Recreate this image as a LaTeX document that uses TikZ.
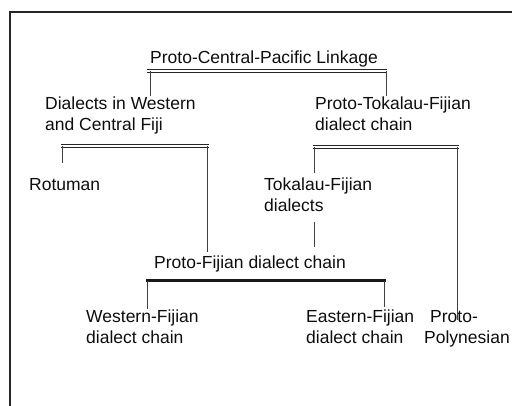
\documentclass[tikz,border=0pt]{standalone}
\usepackage{fontspec}
\setmainfont{Liberation Sans}
\begin{document}
\begin{tikzpicture}[x=1pt,y=-1pt,
  lbl/.style={anchor=base west,inner sep=0pt,align=left,text=black!95,
    font=\fontsize{17.5}{21}\selectfont},
  barline/.style={draw=black!85,line width=1.2pt},
  tbar/.style={draw=black!90,line width=3pt},
  drop/.style={draw=black!75,line width=1pt},
  frame/.style={draw=black!85,line width=2pt}]
\useasboundingbox (0,0) rectangle (512,406);
\draw[frame] (512,12) -- (10,12) -- (10,406);

\node[lbl] (pcp) at (150,64) {Proto-Central-Pacific Linkage};
\node[lbl] (dwc) at (45,131) {Dialects in Western\\and Central Fiji};
\node[lbl] (ptf) at (315,131) {Proto-Tokalau-Fijian\\dialect chain};
\node[lbl] (rot) at (29,191) {Rotuman};
\node[lbl] (tfd) at (264,212) {Tokalau-Fijian\\dialects};
\node[lbl] (pfd) at (154,269) {Proto-Fijian dialect chain};
\node[lbl] (wfd) at (86,344) {Western-Fijian\\dialect chain};
\node[lbl] (efd) at (306,344) {Eastern-Fijian\\dialect chain};
\node[lbl] (ppn) at (424,344) {\hspace*{6pt}Proto-\\Polynesian};

% bracket 1
\coordinate (b1l) at (147,71); \coordinate (b1r) at (387,71);
\coordinate (e1l) at (150,96); \coordinate (e1r) at (386,96);
\draw[barline] ([yshift=1.2pt]b1l) -- ([yshift=1.2pt]b1r);
\draw[barline] ([yshift=-1.2pt]b1l) -- ([yshift=-1.2pt]b1r);
\draw[drop] (e1l) -- (e1l |- b1l);
\draw[drop] (e1r) -- (e1r |- b1r);

% bracket 2
\coordinate (b2l) at (61,146); \coordinate (b2r) at (209,146);
\coordinate (e2l) at (62,163); \coordinate (e2r) at (207,252);
\draw[barline] ([yshift=1.2pt]b2l) -- ([yshift=1.2pt]b2r);
\draw[barline] ([yshift=-1.2pt]b2l) -- ([yshift=-1.2pt]b2r);
\draw[drop] (e2l) -- (e2l |- b2l);
\draw[drop] (e2r) -- (e2r |- b2r);

% bracket 3
\coordinate (b3l) at (313,147); \coordinate (b3r) at (459,147);
\coordinate (e3l) at (314,173); \coordinate (e3r) at (457,320);
\draw[barline] ([yshift=1.2pt]b3l) -- ([yshift=1.2pt]b3r);
\draw[barline] ([yshift=-1.2pt]b3l) -- ([yshift=-1.2pt]b3r);
\draw[drop] (e3l) -- (e3l |- b3l);
\draw[drop] (e3r) -- (e3r |- b3r);

% tokalau-fijian dialects to proto-fijian
\coordinate (c1) at (314,222); \coordinate (c2) at (314,247);
\draw[drop] (c1) -- (c2);

% bracket 4
\coordinate (b4l) at (146,281); \coordinate (b4r) at (386,281);
\coordinate (e4l) at (147,309); \coordinate (e4r) at (384,307);
\draw[tbar] (b4l) -- (b4r);
\draw[drop] (e4l) -- (e4l |- b4l);
\draw[drop] (e4r) -- (e4r |- b4r);
\end{tikzpicture}
\end{document}
